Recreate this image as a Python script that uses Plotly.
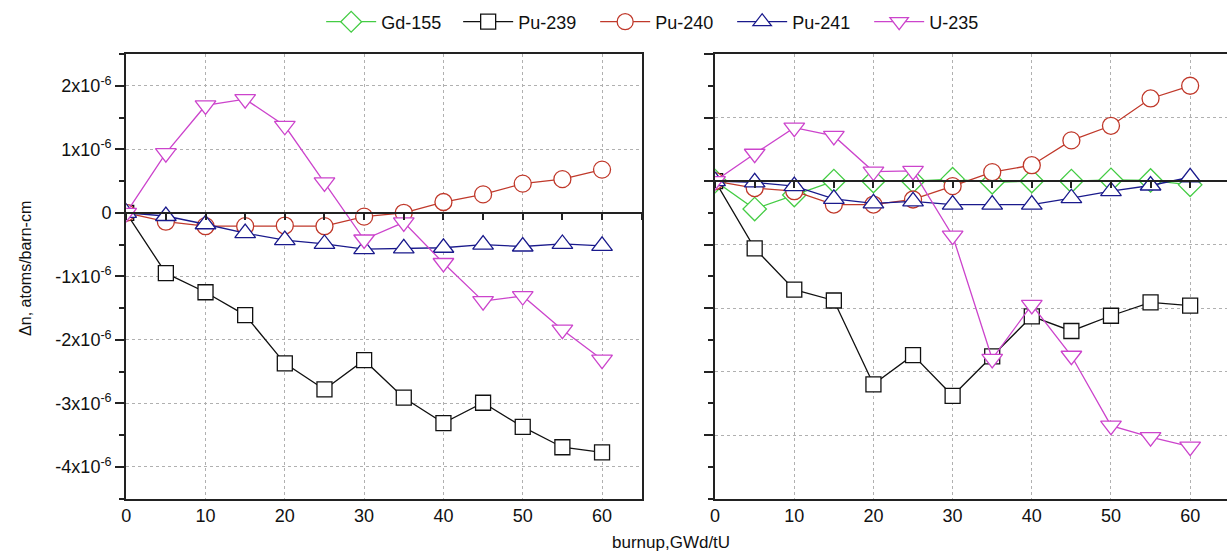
import plotly.graph_objects as go

burnup = [0, 5, 10, 15, 20, 25, 30, 35, 40, 45, 50, 55, 60]

# Left panel (units of 1e-6 atoms/barn-cm)
left_pu239 = [0, -0.95, -1.25, -1.61, -2.37, -2.78, -2.32, -2.91, -3.31, -2.99, -3.37, -3.69, -3.77]
left_pu240 = [0, -0.14, -0.21, -0.21, -0.20, -0.21, -0.06, 0.0, 0.17, 0.29, 0.46, 0.53, 0.68]
left_pu241 = [0, -0.05, -0.18, -0.32, -0.43, -0.49, -0.57, -0.56, -0.55, -0.50, -0.53, -0.49, -0.52]
left_u235 = [0, 0.94, 1.69, 1.79, 1.37, 0.48, -0.42, -0.15, -0.79, -1.39, -1.31, -1.84, -2.31]

# Right panel
right_gd155 = [0, -0.44, -0.22, 0, 0, 0, 0.03, -0.02, 0, 0, 0.02, 0.01, -0.06]
right_pu239 = [0, -1.06, -1.71, -1.88, -3.20, -2.74, -3.38, -2.76, -2.13, -2.36, -2.12, -1.91, -1.96]
right_pu240 = [0, -0.11, -0.16, -0.37, -0.37, -0.29, -0.08, 0.14, 0.25, 0.64, 0.87, 1.30, 1.50]
right_pu241 = [0, -0.02, -0.08, -0.28, -0.35, -0.32, -0.37, -0.37, -0.37, -0.27, -0.16, -0.07, 0.06]
right_u235 = [0, 0.43, 0.84, 0.71, 0.15, 0.16, -0.86, -2.80, -1.95, -2.75, -3.85, -4.03, -4.18]

scale = 1e-6
ytick_vals = [2, 1, 0, -1, -2, -3, -4]
ytick_text = ["2x10<sup>-6</sup>", "1x10<sup>-6</sup>", "0", "-1x10<sup>-6</sup>",
              "-2x10<sup>-6</sup>", "-3x10<sup>-6</sup>", "-4x10<sup>-6</sup>"]

W, H = 1227, 559
FONT = "Arial, Liberation Sans, sans-serif"

colors = {
    "Gd-155": "#44CC44",
    "Pu-239": "#111111",
    "Pu-240": "#C0392B",
    "Pu-241": "#1A1A8C",
    "U-235": "#CC44CC",
}
symbols = {
    "Gd-155": ("diamond", 18),
    "Pu-239": ("square", 15),
    "Pu-240": ("circle", 17),
    "Pu-241": ("triangle-up", 18),
    "U-235": ("triangle-down", 18),
}

fig = go.Figure()


def add(name, ys, xa, ya, show):
    sym, size = symbols[name]
    c = colors[name]
    marker = dict(symbol=sym, size=size, color="white", line=dict(color=c, width=1.3))
    fig.add_trace(go.Scatter(
        x=burnup, y=[v * scale for v in ys], mode="lines+markers", name=name,
        line=dict(color=c, width=1.3), marker=marker,
        xaxis=xa, yaxis=ya, showlegend=show, legendgroup=name,
    ))


# Right panel (with legend entries in legend order)
add("Gd-155", right_gd155, "x2", "y2", True)
add("Pu-239", right_pu239, "x2", "y2", True)
add("Pu-240", right_pu240, "x2", "y2", True)
add("Pu-241", right_pu241, "x2", "y2", True)
add("U-235", right_u235, "x2", "y2", True)
# Left panel
add("Pu-239", left_pu239, "x", "y", False)
add("Pu-240", left_pu240, "x", "y", False)
add("Pu-241", left_pu241, "x", "y", False)
add("U-235", left_u235, "x", "y", False)

ydom = [60.3 / H, 505 / H]
left_dom = [121.7 / W, 639.3 / W]
right_dom = [713 / W, 1.0]
left_range = [-4.5 * scale, 2.5 * scale]
right_range = [-5 * scale, 2 * scale]
left_xrange = [0, 65]
right_xrange = [0, (W - 713) / 7.95]


def zero_pos(r):
    frac = (0 - r[0]) / (r[1] - r[0])
    return ydom[0] + frac * (ydom[1] - ydom[0])


grid = dict(showgrid=True, gridcolor="#b0b0b0", gridwidth=1, griddash="3px,3px")
xcommon = dict(dtick=10, tick0=0, showline=True, linecolor="#222", linewidth=2,
               ticks="", tickfont=dict(family=FONT, size=18, color="#111"),
               zeroline=False, **grid)
ycommon = dict(showline=True, linecolor="#222", linewidth=2, ticks="outside",
               ticklen=9, tickwidth=1.5, tickcolor="#222", zeroline=False,
               tickvals=[v * scale for v in ytick_vals],
               minor=dict(dtick=0.5 * scale, ticks="outside", ticklen=5,
                          tickwidth=1.5, tickcolor="#222", showgrid=False),
               **grid)

fig.update_layout(
    width=W, height=H,
    margin=dict(l=0, r=0, t=0, b=0),
    paper_bgcolor="white", plot_bgcolor="white",
    xaxis=dict(domain=left_dom, range=left_xrange, anchor="y", mirror=True, **xcommon),
    yaxis=dict(domain=ydom, range=left_range, anchor="x", mirror=True,
               ticktext=ytick_text, tickfont=dict(family=FONT, size=18, color="#111"),
               **ycommon),
    xaxis2=dict(domain=right_dom, range=right_xrange, anchor="y2", mirror=True, **xcommon),
    yaxis2=dict(domain=ydom, range=right_range, anchor="x2", mirror=False,
                showticklabels=False, **ycommon),
    # zero lines with downward ticks
    xaxis3=dict(overlaying="x", matches="x", anchor="free", position=zero_pos(left_range),
                side="bottom", showline=True, linecolor="#222", linewidth=2,
                showticklabels=False, ticks="outside", ticklen=6, tickwidth=1.5,
                tickcolor="#222", dtick=5, tick0=0, showgrid=False, zeroline=False),
    xaxis4=dict(overlaying="x2", matches="x2", anchor="free", position=zero_pos(right_range),
                side="bottom", showline=True, linecolor="#222", linewidth=2,
                showticklabels=False, ticks="outside", ticklen=6, tickwidth=1.5,
                tickcolor="#222", dtick=5, tick0=0, showgrid=False, zeroline=False),
    legend=dict(orientation="h", x=0.539, xanchor="center", y=1 - 22 / H, yanchor="middle",
                font=dict(family=FONT, size=18, color="#111"), itemwidth=50,
                entrywidth=72, entrywidthmode="pixels",
                bgcolor="rgba(0,0,0,0)", traceorder="normal"),
    annotations=[
        dict(text="\u0394n, atoms/barn-cm", xref="paper", yref="paper",
             x=20 / W, y=1 - 268 / H, textangle=-90, showarrow=False,
             xanchor="center", yanchor="middle",
             font=dict(family=FONT, size=16, color="#111")),
        dict(text="burnup,GWd/tU", xref="paper", yref="paper",
             x=669 / W, y=1 - 542 / H, showarrow=False,
             xanchor="center", yanchor="middle",
             font=dict(family=FONT, size=17, color="#111")),
    ],
)

# dummy traces so overlay axes render
fig.add_trace(go.Scatter(x=[None], y=[None], xaxis="x3", yaxis="y", showlegend=False, hoverinfo="skip"))
fig.add_trace(go.Scatter(x=[None], y=[None], xaxis="x4", yaxis="y2", showlegend=False, hoverinfo="skip"))

fig.write_html("out.html")
